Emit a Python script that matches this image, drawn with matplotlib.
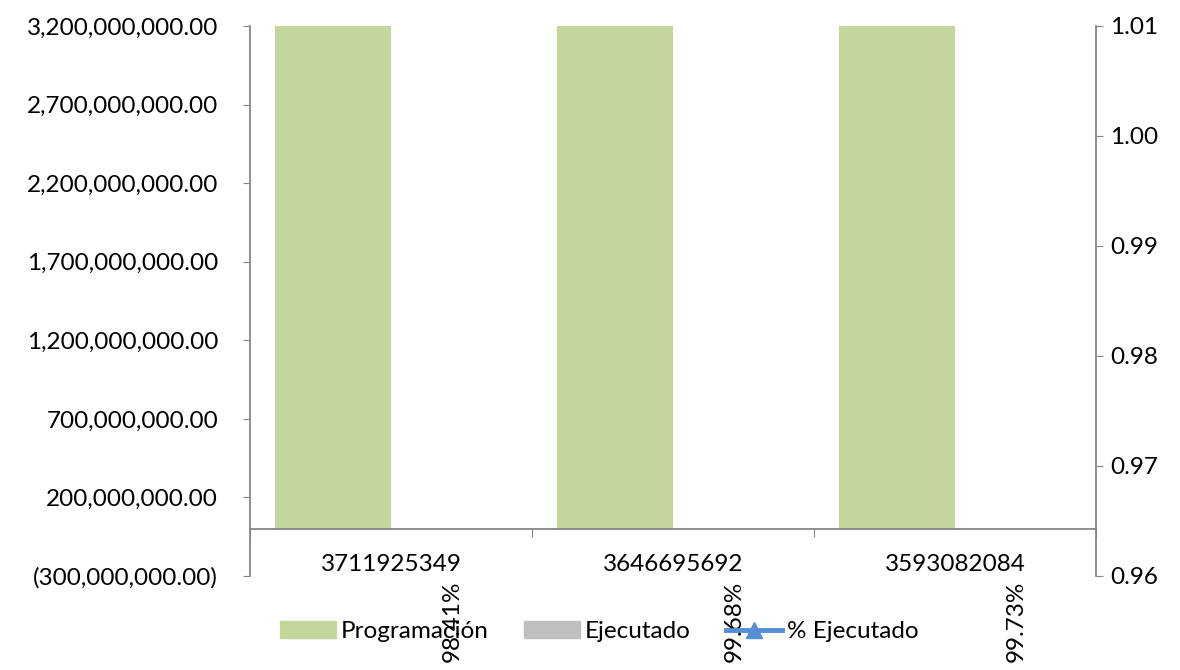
import matplotlib.pyplot as plt
import matplotlib.transforms as mtransforms
from matplotlib.lines import Line2D
from matplotlib.patches import Patch
from matplotlib.ticker import FuncFormatter

plt.rcParams['font.family'] = ['Lato', 'DejaVu Sans']
plt.rcParams['font.size'] = 17.5

# datos
categorias = ['3711925349', '3646695692', '3593082084']
programacion = [3711925349, 3646695692, 3593082084]
ejecutado = [0, 0, 0]  # no se ven barras en la imagen
pct_ejecutado = [0.9841, 0.9968, 0.9973]
pct_etiquetas = ['98.41%', '99.68%', '99.73%']

verde = '#C3D69B'
gris = '#BFBFBF'
azul = '#558ED5'
eje = '#868686'

fig = plt.figure(figsize=(11.8, 6.7), dpi=100)
ax = fig.add_axes([250/1180, 94/670, 846/1180, 550/670])

x = list(range(len(categorias)))
ancho = 0.41
ax.bar([i - ancho/2 for i in x], programacion, width=ancho, color=verde)
ax.bar([i + ancho/2 for i in x], ejecutado, width=ancho, color=gris)

ax.set_xlim(-0.5, 2.5)
ax.set_ylim(-300e6, 3.2e9)
ax.set_yticks([-300e6 + 500e6*k for k in range(8)])

def fmt(v, pos):
    if v < 0:
        return '({:,.2f})'.format(-v)
    return '{:,.2f}'.format(v)

ax.yaxis.set_major_formatter(FuncFormatter(fmt))
ax.tick_params(axis='y', length=5, color=eje, pad=18)

# eje de categorias en y=0
ax.spines['bottom'].set_position(('data', 0))
ax.spines['top'].set_visible(False)
ax.spines['right'].set_visible(False)
for s in ['left', 'bottom']:
    ax.spines[s].set_color(eje)
    ax.spines[s].set_linewidth(1.3)
ax.set_xticks([-0.5, 0.5, 1.5, 2.5])
ax.set_xticklabels([])
ax.tick_params(axis='x', which='major', length=6, color=eje, direction='out')
ax.set_xticks(x, minor=True)
ax.set_xticklabels(categorias, minor=True)
ax.tick_params(axis='x', which='minor', length=0, pad=18)

# eje secundario
ax2 = ax.twinx()
ax2.set_ylim(0.96, 1.01)
ax2.set_yticks([0.96, 0.97, 0.98, 0.99, 1.00, 1.01])
ax2.yaxis.set_major_formatter(FuncFormatter(lambda v, p: '{:.2f}'.format(v)))
ax2.tick_params(axis='y', length=5, color=eje, pad=5)
for s in ['left', 'top', 'bottom']:
    ax2.spines[s].set_visible(False)
ax2.spines['right'].set_color(eje)
ax2.spines['right'].set_linewidth(1.3)

# etiquetas del % ejecutado (la linea queda sobre el eje en y~1)
tr = mtransforms.blended_transform_factory(ax.transData, ax.transAxes)
for i, lab in zip(x, pct_etiquetas):
    ax.text(i + 0.216, -0.083, lab, transform=tr, rotation=90,
            ha='center', va='center', clip_on=False)

handles = [Patch(color=verde, label='Programación'),
           Patch(color=gris, label='Ejecutado'),
           Line2D([], [], color=azul, lw=3.5, marker='^', markersize=12,
                  label='% Ejecutado')]
fig.legend(handles=handles, loc='center', bbox_to_anchor=(0.508, 0.057),
           ncol=3, frameon=False, handlelength=2.3, handleheight=0.7,
           handletextpad=0.2, columnspacing=1.45)

fig.savefig('out.png', dpi=100)
